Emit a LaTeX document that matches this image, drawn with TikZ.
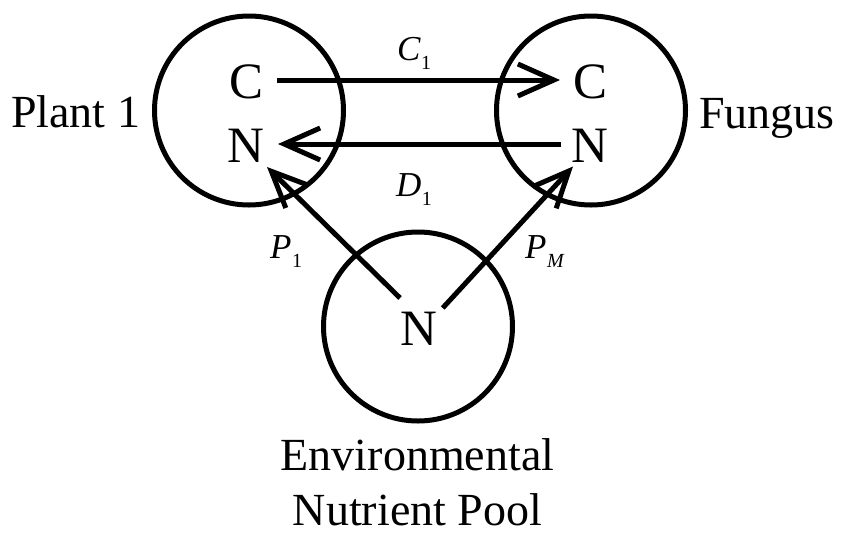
\documentclass[tikz,border=0pt]{standalone}
\usepackage{fontspec}
\setmainfont{Liberation Serif}
\usetikzlibrary{arrows.meta}
\tikzset{
  ring/.style={circle,draw,line width=5pt,minimum size=189pt,inner sep=0pt},
  elem/.style={inner sep=0pt,font=\fontsize{51}{51}\selectfont},
  bigtxt/.style={inner sep=0pt,font=\fontsize{46}{46}\selectfont},
  flowlbl/.style={inner sep=0pt,font=\fontsize{35}{35}\selectfont\itshape},
  arr/.style={line width=5pt,-{Straight Barb[length=36pt,width=32pt]}},
}
\newcommand{\subnum}[1]{\raisebox{-9pt}{\fontsize{20}{20}\selectfont #1}}
\begin{document}
\begin{tikzpicture}[x=1pt,y=-1pt]
\useasboundingbox (0,0) rectangle (844,539);
% circles
\node[ring] (plant) at (249,110.5) {};
\node[ring] (fungus) at (591,110.5) {};
\node[ring] (pool) at (418,326.5) {};
% element letters
\node[elem] (pc) at (247,82) {C};
\node[elem] (pn) at (246,145.5) {N};
\node[elem] (fc) at (591,82) {C};
\node[elem] (fn) at (590,145.5) {N};
\node[elem] (pooln) at (419,329) {N};
% outside labels
\node[bigtxt,anchor=base west] (plantlbl) at (11,127) {Plant 1};
\node[bigtxt,anchor=base west] (funguslbl) at (699,128) {Fungus};
\node[bigtxt,anchor=base] (env1) at (417.5,470) {Environmental};
\node[bigtxt,anchor=base] (env2) at (417.5,525) {Nutrient Pool};
% flows
\draw[arr] ([shift={(30,-2)}]pc.center) -- ([shift={(-31,-2)}]fc.center);
\draw[arr] ([shift={(-29,-1.5)}]fn.center) -- ([shift={(32,-1.5)}]pn.center);
\draw[arr] ([shift={(-19,-31)}]pooln.center) -- ([shift={(21,21.5)}]pn.center);
\draw[arr] ([shift={(23.7,-21)}]pooln.center) -- ([shift={(-17,21)}]fn.center);
% flow labels
\node[flowlbl,anchor=base west] (c1) at (397,60) {C\kern0.5pt\subnum{\upshape 1}};
\node[flowlbl,anchor=base west] (d1) at (396,196) {D\kern0.5pt\subnum{\upshape 1}};
\node[flowlbl,anchor=base west] (p1) at (270,258) {P\kern0.5pt\subnum{\upshape 1}};
\node[flowlbl,anchor=base west] (pm) at (525,258) {P\kern0.5pt\subnum{M}};
\end{tikzpicture}
\end{document}
